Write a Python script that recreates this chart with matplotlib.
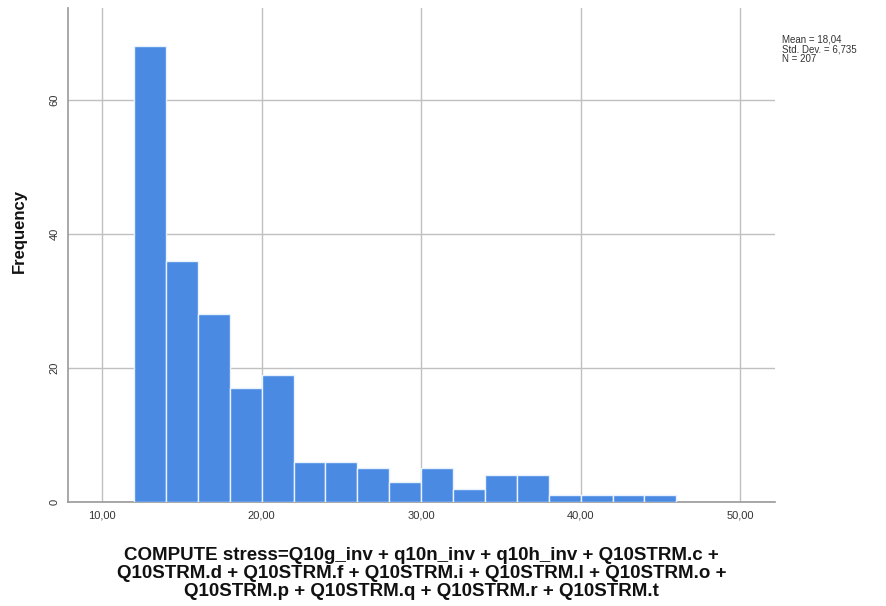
import matplotlib
matplotlib.use("Agg")
import matplotlib.pyplot as plt
import numpy as np

bin_edges = [12, 14, 16, 18, 20, 22, 24, 26, 28, 30, 32, 34, 36, 38, 40, 42, 44, 46]
counts = [68, 36, 28, 17, 19, 6, 6, 5, 3, 5, 2, 4, 4, 1, 1, 1, 1]
x_ticks = [10, 20, 30, 40, 50]
x_tick_labels = ["10,00", "20,00", "30,00", "40,00", "50,00"]
y_ticks = [0, 20, 40, 60]
stats_text = "Mean = 18,04\nStd. Dev. = 6,735\nN = 207"
x_title = ("COMPUTE stress=Q10g_inv + q10n_inv + q10h_inv + Q10STRM.c +\n"
           "Q10STRM.d + Q10STRM.f + Q10STRM.i + Q10STRM.l + Q10STRM.o +\n"
           "Q10STRM.p + Q10STRM.q + Q10STRM.r + Q10STRM.t")

plt.rcParams['font.family'] = ['Liberation Sans', 'DejaVu Sans']

fig = plt.figure(figsize=(8.87, 6.06), dpi=100)
ax = fig.add_axes([0.0767, 0.1716, 0.7973, 0.8154])

widths = np.diff(bin_edges)
ax.bar(bin_edges[:-1], counts, width=widths, align='edge',
       color='#4a8ae3', edgecolor='#e8f2ff', linewidth=1.0, zorder=3)

ax.set_xlim(7.86, 52.2)
ax.set_ylim(0, 73.7)
ax.set_xticks(x_ticks)
ax.set_xticklabels(x_tick_labels, fontsize=8, color='#333333')
ax.set_yticks(y_ticks)
ax.set_yticklabels([str(v) for v in y_ticks], fontsize=8, color='#333333',
                   rotation=90, va='center')
ax.tick_params(axis='both', length=0, pad=6)

ax.grid(True, color='#c0c0c0', linewidth=1.0, zorder=0)
for s in ['top', 'right']:
    ax.spines[s].set_visible(False)
for s in ['left', 'bottom']:
    ax.spines[s].set_color('#999999')
    ax.spines[s].set_linewidth(1.2)

ax.set_ylabel("Frequency", fontsize=12, fontweight='bold', color='#111111')
ax.yaxis.set_label_coords(-0.058, 0.548)
ax.set_xlabel(x_title, fontsize=13.5, fontweight='bold', color='#111111',
              labelpad=19, linespacing=1.1)

fig.text(0.882, 0.943, stats_text, fontsize=7, color='#333333', va='top',
         ha='left', linespacing=0.95)

fig.savefig("out.png", dpi=100)
